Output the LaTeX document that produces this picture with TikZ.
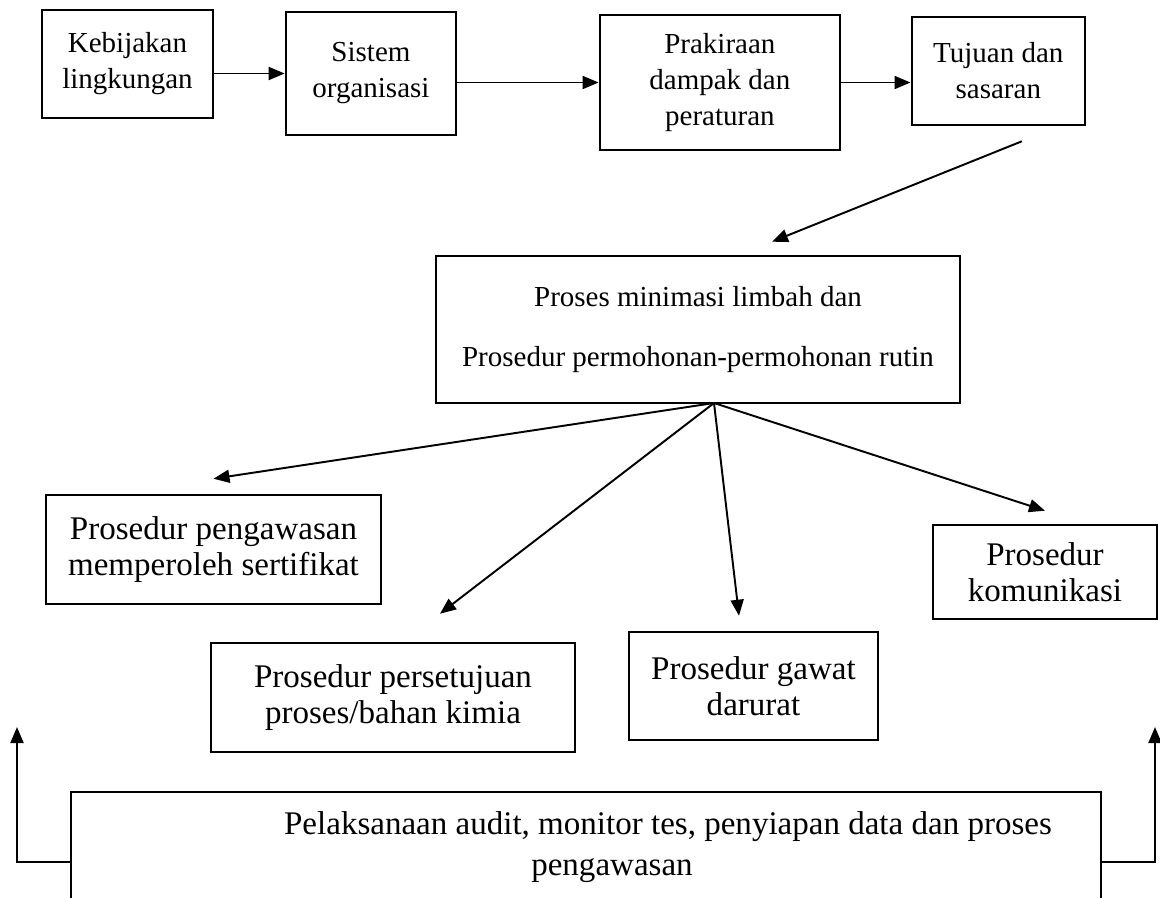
\documentclass[tikz,border=0pt]{standalone}
\usepackage{fontspec}
\setmainfont{Liberation Serif}
\usetikzlibrary{positioning, arrows.meta}

\begin{document}
\begin{tikzpicture}[x=0.02cm, y=-0.02cm,
		font=\fontsize{18.8}{20.5}\selectfont,
		box/.style = {draw, line width=1.5pt, align=center, inner sep=0pt},
		atas/.style = {box, font=\fontsize{16.5}{20.5}\selectfont},
		arr/.style = {line width=1.1pt, -{Triangle[length=0.32cm, width=0.26cm]}}]
		\clip (0,0) rectangle (1160,897);
		% baris atas
		\node[atas, minimum width=3.42cm, minimum height=2.16cm] (kebijakan) at (127.5,64) {Kebijakan\\lingkungan};
		\node[atas, minimum width=3.40cm, minimum height=2.46cm] (sistem) [node distance=4.87cm, right of=kebijakan, yshift=-0.19cm] {Sistem\\organisasi};
		\node[atas, minimum width=4.80cm, minimum height=2.70cm] (prakiraan) [node distance=6.98cm, right of=sistem, yshift=-0.18cm] {Prakiraan\\dampak dan\\peraturan};
		\node[atas, minimum width=3.46cm, minimum height=2.16cm] (tujuan) [node distance=5.57cm, right of=prakiraan, yshift=0.23cm] {Tujuan dan\\sasaran};
		% proses utama
		\node[atas, minimum width=10.48cm, minimum height=2.94cm] (proses) at (698,329.5) {Proses minimasi limbah dan\\[0.48cm]Prosedur permohonan-permohonan rutin};
		\coordinate (fan) at (714,403);
		% prosedur
		\node[box, minimum width=6.70cm, minimum height=2.18cm] (pengawasan) at (213.5,549.5) {Prosedur pengawasan\\memperoleh sertifikat};
		\node[box, minimum width=7.28cm, minimum height=2.18cm] (persetujuan) at (393,697.5) {Prosedur persetujuan\\proses/bahan kimia};
		\node[box, minimum width=4.98cm, minimum height=2.16cm] (gawat) at (753.5,686) {Prosedur gawat\\darurat};
		\node[box, minimum width=4.48cm, minimum height=1.88cm] (komunikasi) at (1045,572) {Prosedur\\komunikasi};
		% audit
		\node[box, minimum width=20.60cm, minimum height=2.80cm] (audit) at (586,862) {};
		\node[align=center] (audittxt) at (612,847) {\hspace*{2.24cm}Pelaksanaan audit, monitor tes, penyiapan data dan proses\\[0.1cm]pengawasan};
		\coordinate (kiri) at (17,727);
		\coordinate (kanan) at (1155,727);
		% panah
		\draw[arr] (kebijakan.east |- sistem.west) -- (sistem.west);
		\draw[arr] (sistem.east |- prakiraan.west) -- (prakiraan.west);
		\draw[arr] (prakiraan.east) -- (prakiraan.east -| tujuan.west);
		\draw[arr] ([xshift=0.47cm, yshift=-0.3cm]tujuan.south) -- ([xshift=1.48cm, yshift=0.26cm]proses.north);
		\draw[arr] (fan) -- ([yshift=0.3cm]pengawasan.north);
		\draw[arr] (fan) -- ([xshift=0.94cm, yshift=0.56cm]persetujuan.north);
		\draw[arr] (fan) -- ([xshift=-0.29cm, yshift=0.3cm]gawat.north);
		\draw[arr] (fan) -- ([yshift=0.26cm]komunikasi.north);
		\draw[arr] (audit.west) -| (kiri);
		\draw[arr] (audit.east) -| (kanan);
	\end{tikzpicture}
\end{document}
